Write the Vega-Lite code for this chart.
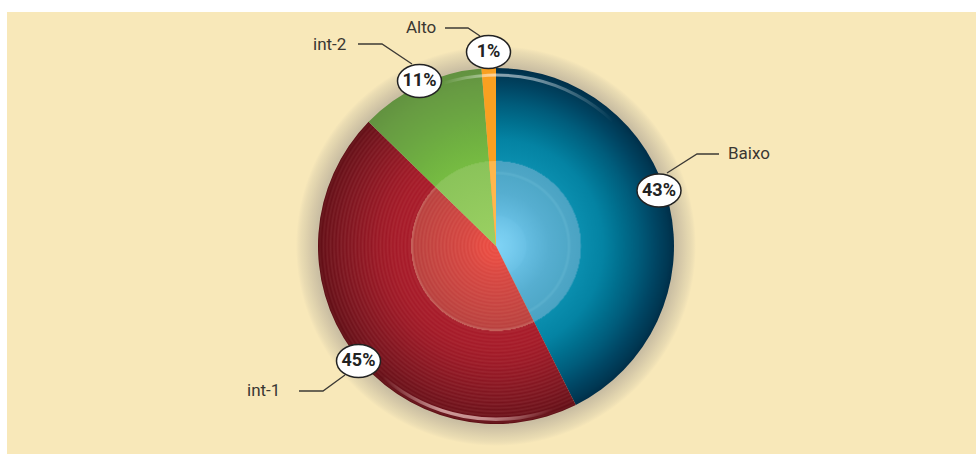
{
"$schema":"https://vega.github.io/schema/vega-lite/v6.json",
"width":976,"height":454,"padding":0,
"autosize":{"type":"fit","contains":"padding"},
"background":"#ffffff",
"config":{"view":{"stroke":null}},
"datasets":{
"segments":[
{"segment":"Baixo","share":42.6,"rank":1},
{"segment":"int-1","share":44.7,"rank":2},
{"segment":"int-2","share":11.4,"rank":3},
{"segment":"Alto","share":1.3,"rank":4}],
"callouts":[
{"segment":"Baixo","pct":"43%","px":163,"py":55.5,"tx":232,"ty":92,"anchor":"left"},
{"segment":"Alto","pct":"1%","px":-7.5,"py":194,"tx":-90,"ty":218,"anchor":"left"},
{"segment":"int-2","pct":"11%","px":-76.5,"py":165,"tx":-183,"ty":201,"anchor":"left"},
{"segment":"int-1","pct":"45%","px":-137.5,"py":-115,"tx":-249,"ty":-145,"anchor":"left"}],
"leaders":[
{"segment":"Baixo","seq":1,"x":171,"y":73},{"segment":"Baixo","seq":2,"x":201,"y":92},{"segment":"Baixo","seq":3,"x":223,"y":92},
{"segment":"Alto","seq":1,"x":-51,"y":218},{"segment":"Alto","seq":2,"x":-28,"y":218},{"segment":"Alto","seq":3,"x":-16,"y":210},
{"segment":"int-2","seq":1,"x":-138,"y":202},{"segment":"int-2","seq":2,"x":-114,"y":202},{"segment":"int-2","seq":3,"x":-84,"y":182},
{"segment":"int-1","seq":1,"x":-197,"y":-145},{"segment":"int-1","seq":2,"x":-173,"y":-145},{"segment":"int-1","seq":3,"x":-151,"y":-129}]
},
"data":{"name":"segments"},
"layer":[
{"mark":{"type":"rect","fill":"#f8e8b9"},
 "transform":[{"filter":"datum.rank === 1"}],
 "encoding":{
  "x":{"datum":-489,"type":"quantitative","axis":null,"scale":{"domain":[-496,480],"nice":false,"zero":false}},
  "x2":{"datum":480},
  "y":{"datum":234,"type":"quantitative","axis":null,"scale":{"domain":[-208,246],"nice":false,"zero":false}},
  "y2":{"datum":-208}}},
{"transform":[{"filter":"datum.rank === 1"}],
 "encoding":{"x":{"datum":0,"type":"quantitative","axis":null},"y":{"datum":0,"type":"quantitative","axis":null},"theta":{"value":0},"theta2":{"value":6.2832}},
 "layer":[
 {"mark":{"type":"arc","radius":200,"radius2":0,"fill":{"gradient":"radial","x1":0.5,"y1":0.5,"r1":0,"x2":0.5,"y2":0.5,"r2":0.5,"stops":[
  {"offset":0.88,"color":"#c8bca2"},{"offset":0.9,"color":"#cbbfa3"},{"offset":0.915,"color":"#d1c5a6"},{"offset":0.93,"color":"#d7caa9"},{"offset":0.945,"color":"#ddd0ac"},{"offset":0.96,"color":"#e3d6af"},{"offset":0.975,"color":"#e9dbb2"},{"offset":0.99,"color":"#f1e2b6"},{"offset":1,"color":"#f8e8b9"}]}}}
 ]},
{"transform":[{"stack":"share","sort":[{"field":"rank","order":"ascending"}],"groupby":[],"as":["t0","t1"]}],
 "encoding":{
  "x":{"datum":0,"type":"quantitative","axis":null},
  "y":{"datum":0,"type":"quantitative","axis":null},
  "theta":{"field":"t0","type":"quantitative","scale":{"domain":[0,100],"range":[0,6.283185]},"stack":null},
  "theta2":{"field":"t1"}},
 "layer":[
 {"transform":[{"filter":"datum.segment === 'Baixo'"}],
  "mark":{"type":"arc","radius":178,"radius2":0,"fill":{"gradient":"radial","x1":0.236,"y1":0.528,"r1":0,"x2":0.236,"y2":0.528,"r2":0.528,"stops":[
  {"offset":0,"color":"#80d4f6"},{"offset":0.09,"color":"#76cbee"},{"offset":0.165,"color":"#6ac1e5"},{"offset":0.175,"color":"#65bde1"},{"offset":0.3,"color":"#56aed0"},{"offset":0.4,"color":"#4fa8c8"},{"offset":0.405,"color":"#58aecc"},{"offset":0.415,"color":"#58aecc"},{"offset":0.42,"color":"#4ea6c6"},{"offset":0.477,"color":"#4aa3c3"},{"offset":0.478,"color":"#0a8eae"},{"offset":0.6,"color":"#0483a3"},{"offset":0.7,"color":"#00708f"},{"offset":0.8,"color":"#005c7b"},{"offset":0.9,"color":"#004563"},{"offset":0.97,"color":"#003752"},{"offset":1,"color":"#002e48"}]}}},
 {"transform":[{"filter":"datum.segment === 'int-1'"}],
  "mark":{"type":"arc","radius":178,"radius2":0,"fill":{"gradient":"radial","x1":0.6626,"y1":0.4112,"r1":0,"x2":0.6626,"y2":0.4112,"r2":0.5888,"stops":[
  {"offset":0,"color":"#e84a40"},{"offset":0.01,"color":"#ee584d"},{"offset":0.02,"color":"#e84a40"},{"offset":0.03,"color":"#ee584d"},{"offset":0.04,"color":"#e64a40"},{"offset":0.05,"color":"#ec574d"},{"offset":0.06,"color":"#e64a40"},{"offset":0.07,"color":"#ec574d"},{"offset":0.08,"color":"#e24940"},{"offset":0.09,"color":"#e9564c"},
  {"offset":0.10,"color":"#e04840"},{"offset":0.11,"color":"#e6554c"},{"offset":0.12,"color":"#dc4740"},{"offset":0.13,"color":"#e2544c"},{"offset":0.14,"color":"#d9463f"},{"offset":0.15,"color":"#e0534c"},{"offset":0.16,"color":"#d6453f"},{"offset":0.17,"color":"#dd524c"},{"offset":0.18,"color":"#d4453f"},{"offset":0.19,"color":"#db514b"},
  {"offset":0.20,"color":"#d2443f"},{"offset":0.21,"color":"#d9514b"},{"offset":0.22,"color":"#d0443f"},{"offset":0.23,"color":"#d7514b"},{"offset":0.24,"color":"#ce433f"},{"offset":0.25,"color":"#d5514b"},{"offset":0.26,"color":"#cc433f"},{"offset":0.27,"color":"#d3514b"},{"offset":0.28,"color":"#ca423f"},{"offset":0.29,"color":"#d1514b"},
  {"offset":0.30,"color":"#c8423f"},{"offset":0.31,"color":"#cf514b"},{"offset":0.32,"color":"#c6413f"},{"offset":0.33,"color":"#cd504b"},{"offset":0.34,"color":"#c4413e"},{"offset":0.35,"color":"#cb504a"},{"offset":0.36,"color":"#c2413e"},{"offset":0.37,"color":"#c9504a"},{"offset":0.38,"color":"#c0403e"},{"offset":0.39,"color":"#c7504a"},
  {"offset":0.40,"color":"#be403e"},{"offset":0.41,"color":"#c54f4a"},{"offset":0.42,"color":"#bc3f3d"},{"offset":0.43,"color":"#c34e49"},{"offset":0.44,"color":"#ba3f3d"},{"offset":0.45,"color":"#c14e49"},{"offset":0.46,"color":"#b83e3d"},{"offset":0.47,"color":"#c4605a"},{"offset":0.477,"color":"#c4605a"},
  {"offset":0.478,"color":"#a61928"},{"offset":0.49,"color":"#ae2834"},{"offset":0.50,"color":"#a61928"},{"offset":0.51,"color":"#ae2834"},{"offset":0.52,"color":"#a61928"},{"offset":0.53,"color":"#ae2834"},{"offset":0.54,"color":"#a51928"},{"offset":0.55,"color":"#ad2834"},{"offset":0.56,"color":"#a41928"},{"offset":0.57,"color":"#ac2834"},{"offset":0.58,"color":"#a31927"},{"offset":0.59,"color":"#ab2833"},
  {"offset":0.60,"color":"#a01826"},{"offset":0.61,"color":"#a92733"},{"offset":0.62,"color":"#9e1826"},{"offset":0.63,"color":"#a72733"},{"offset":0.64,"color":"#9c1825"},{"offset":0.65,"color":"#a52732"},{"offset":0.66,"color":"#9a1725"},{"offset":0.67,"color":"#a32732"},{"offset":0.68,"color":"#971724"},{"offset":0.69,"color":"#a12632"},
  {"offset":0.70,"color":"#931623"},{"offset":0.71,"color":"#9d2631"},{"offset":0.72,"color":"#911622"},{"offset":0.73,"color":"#9b2630"},{"offset":0.74,"color":"#8e1522"},{"offset":0.75,"color":"#982630"},{"offset":0.76,"color":"#8b1521"},{"offset":0.77,"color":"#95252f"},{"offset":0.78,"color":"#881520"},{"offset":0.79,"color":"#92252f"},
  {"offset":0.80,"color":"#84141f"},{"offset":0.81,"color":"#8f252e"},{"offset":0.82,"color":"#81141f"},{"offset":0.83,"color":"#8c242d"},{"offset":0.84,"color":"#7e131e"},{"offset":0.85,"color":"#89242d"},{"offset":0.86,"color":"#7b131d"},{"offset":0.87,"color":"#86232c"},{"offset":0.88,"color":"#78121c"},{"offset":0.89,"color":"#83222b"},
  {"offset":0.90,"color":"#73111b"},{"offset":0.91,"color":"#7f2129"},{"offset":0.92,"color":"#70111a"},{"offset":0.93,"color":"#7c2028"},{"offset":0.94,"color":"#6d1019"},{"offset":0.95,"color":"#781f26"},{"offset":0.96,"color":"#690f18"},{"offset":0.97,"color":"#731d24"},{"offset":0.98,"color":"#640e16"},{"offset":0.99,"color":"#6c1a20"},{"offset":1,"color":"#5a0c12"}]}}},
 {"transform":[{"filter":"datum.segment === 'int-2'"}],
  "mark":{"type":"arc","radius":178,"radius2":0,"fill":{"gradient":"radial","x1":0.859,"y1":1,"r1":0,"x2":0.859,"y2":1,"r2":1.003,"stops":[
  {"offset":0,"color":"#9bd162"},{"offset":0.477,"color":"#8ac35a"},{"offset":0.478,"color":"#76bb42"},{"offset":0.6,"color":"#70b241"},{"offset":0.75,"color":"#6ba642"},{"offset":0.9,"color":"#679b42"},{"offset":1,"color":"#629240"}]}}},
 {"transform":[{"filter":"datum.segment === 'Alto'"}],"mark":{"type":"arc","radius":178,"radius2":0,"fill":"#f9a021"}},
 {"transform":[{"filter":"datum.segment === 'Alto'"}],"mark":{"type":"arc","radius":85,"radius2":0,"fill":"#ffb74d"}}
 ]},
{"transform":[{"filter":"datum.rank === 1"}],
 "encoding":{"x":{"datum":0,"type":"quantitative","axis":null},"y":{"datum":0,"type":"quantitative","axis":null}},
 "layer":[
 {"mark":{"type":"arc","radius":172.5,"radius2":169.5,"fill":{"x1":0,"y1":0,"x2":1,"y2":0,"gradient":"linear","stops":[{"offset":0,"color":"rgba(255,255,255,0)"},{"offset":0.3,"color":"rgba(255,255,255,0.55)"},{"offset":0.55,"color":"rgba(255,255,255,0.45)"},{"offset":1,"color":"rgba(255,255,255,0)"}]}},
  "encoding":{"theta":{"value":-0.312},"theta2":{"value":0.75}}},
 {"mark":{"type":"arc","radius":175,"radius2":171.5,"fill":{"x1":0,"y1":0,"x2":1,"y2":0,"gradient":"linear","stops":[{"offset":0,"color":"rgba(255,220,215,0)"},{"offset":0.35,"color":"rgba(255,220,215,0.65)"},{"offset":0.6,"color":"rgba(255,220,215,0.6)"},{"offset":1,"color":"rgba(255,220,215,0)"}]}},
  "encoding":{"theta":{"value":2.81},"theta2":{"value":3.848}}}
 ]},
{"data":{"name":"leaders"},
 "mark":{"type":"line","stroke":"#3d3a35","strokeWidth":1.3,"interpolate":"linear"},
 "encoding":{
  "x":{"field":"x","type":"quantitative","axis":null},
  "y":{"field":"y","type":"quantitative","axis":null},
  "detail":{"field":"segment"},
  "order":{"field":"seq","type":"ordinal"}}},
{"data":{"name":"callouts"},
 "mark":{"type":"point","filled":true,"fill":"#ffffff","stroke":"#222222","strokeWidth":1.5,"opacity":1,"fillOpacity":1,"size":1936,"shape":"M -1 0 A 1 0.75 0 1 1 1 0 A 1 0.75 0 1 1 -1 0 Z"},
 "encoding":{
  "x":{"field":"px","type":"quantitative","axis":null},
  "y":{"field":"py","type":"quantitative","axis":null}}},
{"data":{"name":"callouts"},
 "mark":{"type":"text","font":"Roboto","fontWeight":"bold","fontSize":18,"fill":"#222222","align":"center","baseline":"middle"},
 "encoding":{
  "x":{"field":"px","type":"quantitative","axis":null},
  "y":{"field":"py","type":"quantitative","axis":null},
  "text":{"field":"pct"}}},
{"data":{"name":"callouts"},
 "mark":{"type":"text","font":"Roboto","fontSize":17,"fill":"#3a3732","align":"left","baseline":"middle"},
 "encoding":{
  "x":{"field":"tx","type":"quantitative","axis":null},
  "y":{"field":"ty","type":"quantitative","axis":null},
  "text":{"field":"segment"}}}
]
}
